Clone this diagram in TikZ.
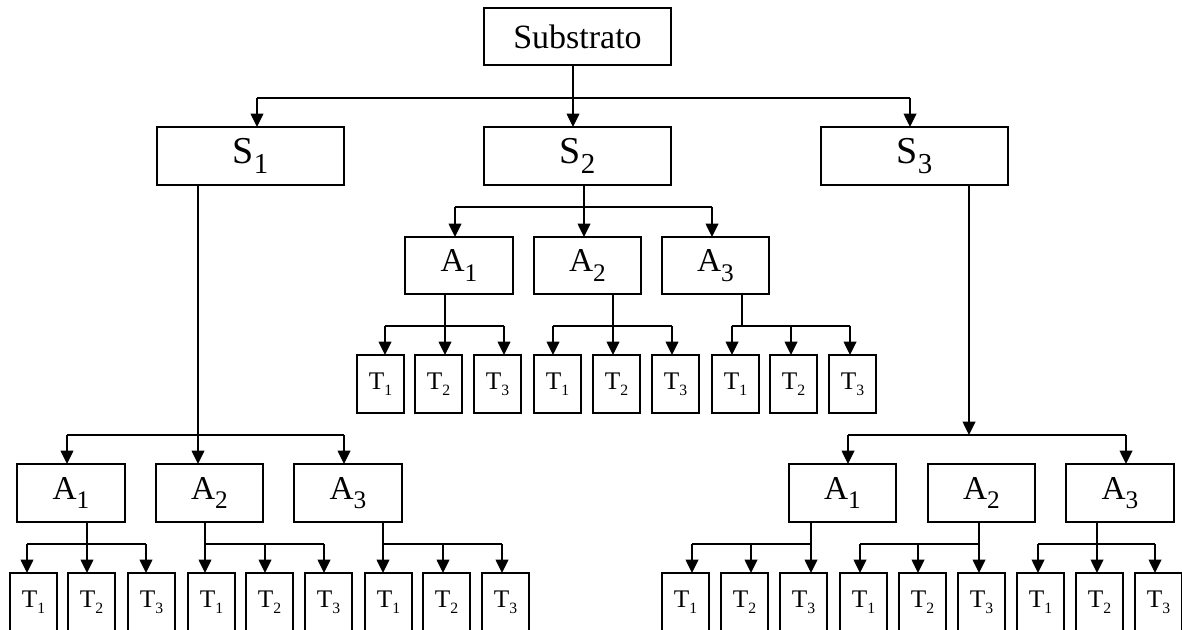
\documentclass[tikz,border=0pt]{standalone}
\usepackage{fontspec}
\usepackage{graphicx}
\setmainfont{Liberation Serif}
\usetikzlibrary{arrows.meta}

% lowered index digits
\newcommand\idx[1]{\raisebox{-0.28em}{\scalebox{0.76}{#1}}}
\newcommand\tidx[1]{\raisebox{-0.24em}{\scalebox{0.62}{#1}}}

% box placed by its corner coordinates (in px units)
\newcommand\bx[7]{%
  \node[#2, minimum width={(#5-#3)*0.75pt}, minimum height={(#6-#4)*0.75pt}]
    (#1) at ({(#3+#5)/2},{(#4+#6)/2}) {#7};}

% one parent fanning out to three children through a bus
\newcommand\fan[9]{%
  \coordinate (#1s) at (#2,#3);
  \coordinate (#1a) at (#4,#3);
  \coordinate (#1b) at (#5,#3);
  \coordinate (#1c) at (#6,#3);
  \draw[link] (#1.south -| #1s) -- (#1s);
  \draw[link] (#1a) -- (#1c);
  \draw[arr] (#1a) -- (#7.north -| #1a);
  \draw[arr] (#1b) -- (#8.north -| #1b);
  \draw[arr] (#1c) -- (#9.north -| #1c);}

\begin{document}
\begin{tikzpicture}[x=0.75pt, y=-0.75pt,
  boxbase/.style={draw, line width=1.1pt, inner sep=0pt, outer sep=0pt, fill=white},
  topbox/.style={boxbase, font=\fontsize{25.5}{25.5}\selectfont},
  sbox/.style={boxbase, font=\fontsize{28.5}{28.5}\selectfont},
  abox/.style={boxbase, font=\fontsize{25}{25}\selectfont},
  tbox/.style={boxbase, font=\fontsize{19}{19}\selectfont},
  link/.style={line width=1.1pt},
  arr/.style={line width=1.1pt, -{Triangle[width=9.5pt,length=10pt]}}]

\useasboundingbox (0,0) rectangle (1182,629);
\clip (0,0) rectangle (1182,629);
\fill[white] (0,0) rectangle (1182,629);

% ---- top levels
\bx{sub}{topbox}{484}{8}{671}{65}{Substrato}
\bx{S1}{sbox}{157}{127}{344}{185}{S\idx{1}}
\bx{S2}{sbox}{484}{127}{671}{185}{S\idx{2}}
\bx{S3}{sbox}{821}{127}{1008}{185}{S\idx{3}}

% ---- second levels
\bx{la1}{abox}{17}{464}{125}{522}{A\idx{1}}
\bx{la2}{abox}{156}{464}{263}{522}{A\idx{2}}
\bx{la3}{abox}{294}{464}{402}{522}{A\idx{3}}
\bx{ma1}{abox}{405}{237}{513}{294}{A\idx{1}}
\bx{ma2}{abox}{534}{237}{641}{294}{A\idx{2}}
\bx{ma3}{abox}{662}{237}{769}{294}{A\idx{3}}
\bx{ra1}{abox}{789}{464}{896}{522}{A\idx{1}}
\bx{ra2}{abox}{928}{464}{1035}{522}{A\idx{2}}
\bx{ra3}{abox}{1066}{464}{1174}{522}{A\idx{3}}

% ---- leaves
\foreach \n/\x/\k in {lt1/10/1, lt2/68/2, lt3/128/3, lt4/188/1, lt5/246/2, lt6/305/3,
                      lt7/365/1, lt8/423/2, lt9/482/3,
                      rt1/662/1, rt2/721/2, rt3/780/3, rt4/840/1, rt5/899/2, rt6/958/3,
                      rt7/1017/1, rt8/1076/2, rt9/1135/3}{
  \bx{\n}{tbox}{\x}{573}{\x+47}{631}{T\tidx{\k}}
}
\foreach \n/\x/\k in {mt1/357/1, mt2/415/2, mt3/474/3, mt4/534/1, mt5/593/2, mt6/652/3,
                      mt7/712/1, mt8/770/2, mt9/829/3}{
  \bx{\n}{tbox}{\x}{355}{\x+47}{413}{T\tidx{\k}}
}

% ---- Substrato to S1, S2, S3
\coordinate (t0) at (573,98);
\coordinate (t1) at (257,98);
\coordinate (t3) at (910,98);
\draw[link] (sub.south -| t0) -- (t0);
\draw[line width=1.6pt] (t1) -- (t3);
\draw[arr] (t1) -- (S1.north -| t1);
\draw[arr] (t0) -- (S2.north -| t0);
\draw[arr] (t3) -- (S3.north -| t3);

% ---- S1 branch
\coordinate (l0) at (198,435);
\coordinate (l1) at (67,435);
\coordinate (l3) at (344,435);
\draw[arr] (S1.south -| l0) -- (la2.north -| l0);
\draw[link] (l1) -- (l3);
\draw[arr] (l1) -- (la1.north -| l1);
\draw[arr] (l3) -- (la3.north -| l3);

% ---- S2 branch
\coordinate (m0) at (584,207);
\coordinate (m1) at (455,207);
\coordinate (m3) at (712,207);
\draw[arr] (S2.south -| m0) -- (ma2.north -| m0);
\draw[link] (m1) -- (m3);
\draw[arr] (m1) -- (ma1.north -| m1);
\draw[arr] (m3) -- (ma3.north -| m3);

% ---- S3 branch
\coordinate (r0) at (969,435);
\coordinate (r1) at (848,435);
\coordinate (r3) at (1126,435);
\draw[arr] (S3.south -| r0) -- (r0);
\draw[link] (r1) -- (r3);
\draw[arr] (r1) -- (ra1.north -| r1);
\draw[arr] (r3) -- (ra3.north -| r3);

% ---- A to T
\fan{la1}{87}{544}{27}{87}{146}{lt1}{lt2}{lt3}
\fan{la2}{205}{544}{205}{265}{324}{lt4}{lt5}{lt6}
\fan{la3}{383}{544}{383}{443}{502}{lt7}{lt8}{lt9}
\fan{ma1}{445}{326}{385}{445}{504}{mt1}{mt2}{mt3}
\fan{ma2}{613}{326}{553}{613}{672}{mt4}{mt5}{mt6}
\fan{ma3}{742}{326}{732}{791}{850}{mt7}{mt8}{mt9}
\fan{ra1}{811}{544}{692}{751}{811}{rt1}{rt2}{rt3}
\fan{ra2}{979}{544}{860}{918}{979}{rt4}{rt5}{rt6}
\fan{ra3}{1097}{544}{1038}{1097}{1155}{rt7}{rt8}{rt9}
\end{tikzpicture}
\end{document}
